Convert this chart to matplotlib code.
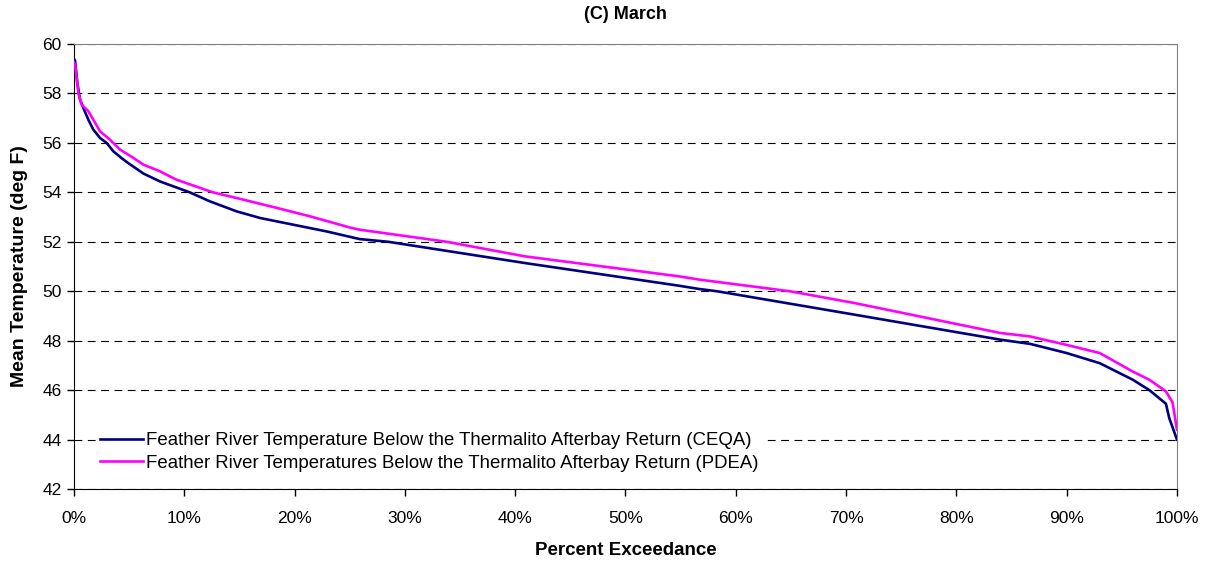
import matplotlib
matplotlib.use("Agg")
import matplotlib.pyplot as plt
import matplotlib.ticker as ticker

# percent exceedance (%) and mean temperature (deg F)
ceqa_pct = [0, 0.1, 0.3, 0.55, 0.85, 1.3, 1.75, 2.36, 2.96, 3.57, 4.3, 4.9,
            6.3, 7.8, 10.5, 12.3, 14.75, 16.9, 19.9, 22.9, 25.9, 28.5, 40.9,
            54.9, 56.7, 58.3, 70.8, 84.0, 86.7, 90.0, 93.0, 96.0, 97.5, 99.0,
            99.3, 100]
ceqa_temp = [59.4, 59.32, 58.43, 57.75, 57.41, 56.94, 56.54, 56.2, 56.0,
             55.66, 55.39, 55.19, 54.76, 54.44, 54.0, 53.64, 53.23, 52.96,
             52.69, 52.42, 52.11, 52.0, 51.14, 50.22, 50.09, 50.0, 49.05,
             48.04, 47.87, 47.5, 47.09, 46.42, 46.0, 45.45, 44.87, 44.0]

pdea_pct = [0, 0.1, 0.4, 0.7, 1.3, 1.75, 2.36, 3.26, 4.17, 5.4, 6.3, 7.8,
            9.3, 12.6, 15.4, 18.4, 21.4, 25.0, 25.9, 33.8, 40.9, 54.9, 56.7,
            64.9, 70.8, 84.0, 86.7, 90.0, 93.0, 96.0, 97.5, 99.0, 99.6, 100]
pdea_temp = [59.25, 59.17, 58.0, 57.55, 57.28, 56.94, 56.47, 56.13, 55.73,
             55.39, 55.12, 54.85, 54.51, 54.0, 53.7, 53.37, 53.03, 52.58,
             52.49, 52.0, 51.41, 50.6, 50.47, 50.0, 49.52, 48.31, 48.17,
             47.83, 47.5, 46.75, 46.42, 45.95, 45.5, 44.4]

ceqa_label = "Feather River Temperature Below the Thermalito Afterbay Return (CEQA)"
pdea_label = "Feather River Temperatures Below the Thermalito Afterbay Return (PDEA)"

plt.rcParams["font.family"] = ["Liberation Sans", "DejaVu Sans"]

fig = plt.figure(figsize=(12.09, 5.63), dpi=100)
ax = fig.add_axes([0.0612, 0.1314, 0.9123, 0.7904])

ax.plot(ceqa_pct, ceqa_temp, color="#000080", linewidth=1.9, label=ceqa_label, zorder=3)
ax.plot(pdea_pct, pdea_temp, color="#FF00FF", linewidth=1.9, label=pdea_label, zorder=3)

ax.set_xlim(0, 100)
ax.set_ylim(42, 60)
ax.set_yticks(range(42, 61, 2))
ax.set_xticks(range(0, 101, 10))
ax.xaxis.set_major_formatter(ticker.FuncFormatter(lambda x, _: f"{int(x)}%"))
ax.tick_params(direction="out", length=5, width=1, labelsize=12.5, colors="black")
ax.tick_params(axis="x", pad=11)
ax.tick_params(axis="y", pad=4)

ax.yaxis.grid(True, color="black", linewidth=0.8, linestyle=(0, (7, 5)))
ax.set_axisbelow(True)

for side in ["top", "right"]:
    ax.spines[side].set_edgecolor("#808080")
for side in ["left", "bottom"]:
    ax.spines[side].set_edgecolor("black")

ax.set_title("(C) March", fontsize=13, fontweight="bold", pad=18)
ax.set_xlabel("Percent Exceedance", fontsize=13.5, fontweight="bold", labelpad=11)
ax.set_ylabel("Mean Temperature (deg F)", fontsize=14, fontweight="bold", labelpad=10)

leg = ax.legend(loc="lower left", bbox_to_anchor=(0.02, 0.03), fontsize=13.4,
                frameon=True, facecolor="white", edgecolor="none", framealpha=1,
                fancybox=False, handlelength=2.3, handletextpad=0.2,
                borderpad=0.2, labelspacing=0.3, borderaxespad=0)

plt.savefig("out.png", dpi=100)
